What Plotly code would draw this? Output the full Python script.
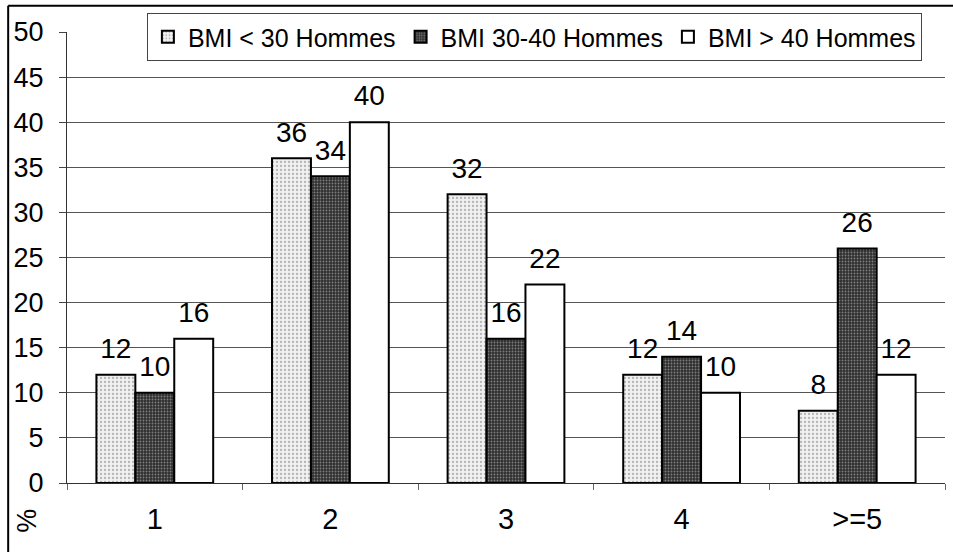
import plotly.graph_objects as go

categories = ["1", "2", "3", "4", ">=5"]
series_names = ["BMI < 30 Hommes", "BMI 30-40 Hommes", "BMI > 40 Hommes"]
bmi_lt30 = [12, 36, 32, 12, 8]
bmi_30_40 = [10, 34, 16, 14, 26]
bmi_gt40 = [16, 40, 22, 10, 12]

FONT = "Liberation Sans, Arial, sans-serif"

styles = [
    dict(color="#f2f2f2", pattern=dict(shape=".", fgcolor="#777", bgcolor="#f0f0f0", size=4, solidity=0.25)),
    dict(color="#3a3a3a", pattern=dict(shape=".", fgcolor="#cfcfcf", bgcolor="#2e2e2e", size=3, solidity=0.3)),
    dict(color="white"),
]

fig = go.Figure()
for i, (name, vals, st) in enumerate(zip(series_names, [bmi_lt30, bmi_30_40, bmi_gt40], styles)):
    fig.add_trace(go.Bar(
        x=categories, y=vals, name=name, offsetgroup=str(i),
        marker=dict(line=dict(color="black", width=2), **st),
    ))
    # value labels, lifted a bit higher than plotly's default outside text
    fig.add_trace(go.Scatter(
        x=categories, y=vals, mode="markers+text", offsetgroup=str(i),
        text=[str(v) for v in vals], textposition="top center",
        textfont=dict(size=28, color="black", family=FONT),
        marker=dict(size=14, color="rgba(0,0,0,0)"),
        showlegend=False, hoverinfo="skip", cliponaxis=False,
    ))

fig.update_layout(
    width=953, height=552,
    margin=dict(l=67, r=8, t=32, b=69),
    plot_bgcolor="white", paper_bgcolor="white",
    barmode="group", bargap=0.335, bargroupgap=0,
    scattermode="group", scattergap=0.335,
    font=dict(family=FONT, color="black"),
    showlegend=True,
    legend=dict(
        orientation="h", x=0.091, y=1.042, xanchor="left", yanchor="top",
        bgcolor="white", bordercolor="#444", borderwidth=1,
        font=dict(size=25, family=FONT), itemwidth=30, traceorder="normal",
    ),
    xaxis=dict(
        automargin=False,
        showline=True, linecolor="#333", linewidth=1,
        ticks="outside", tickson="boundaries", ticklen=6, tickcolor="#666",
        tickfont=dict(size=29), ticklabelstandoff=10,
        showgrid=False,
    ),
    yaxis=dict(
        automargin=False,
        range=[0, 50], dtick=5, showline=True, linecolor="#333", linewidth=1,
        ticks="outside", ticklen=7, tickcolor="#444",
        tickfont=dict(size=27), ticklabelstandoff=10,
        showgrid=True, gridcolor="#555", gridwidth=1, zeroline=False,
    ),
    shapes=[
        dict(type="line", xref="paper", yref="paper", x0=-0.067, x1=1.01, y0=1.058, y1=1.058,
             line=dict(color="black", width=2)),
        dict(type="line", xref="paper", yref="paper", x0=-0.067, x1=-0.067, y0=1.058, y1=-0.16,
             line=dict(color="black", width=2)),
    ],
    annotations=[
        dict(text="%", xref="paper", yref="paper", x=-0.0456, y=-0.084,
             xanchor="center", yanchor="middle", showarrow=False,
             textangle=-90, font=dict(size=27, family=FONT)),
    ],
)

fig.write_html("out.html", config={"displayModeBar": False},
               post_script="document.body.style.margin='0';")
